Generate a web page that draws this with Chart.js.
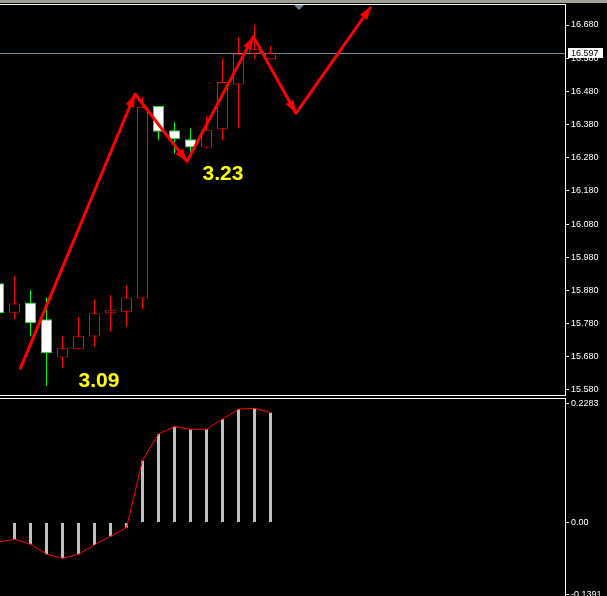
<!DOCTYPE html>
<html>
<head>
<meta charset="utf-8">
<script src="https://cdn.jsdelivr.net/npm/chart.js@4/dist/chart.umd.min.js"></script>
<style>
  html, body { margin: 0; padding: 0; background: #000; width: 607px; height: 596px; overflow: hidden; }
  #main { position: absolute; left: 0; top: 0; }
  #sub { position: absolute; left: 0; top: 396px; }
  #band { position: absolute; left: 0; top: 0; width: 607px; height: 3px; background: #a0a094; }
</style>
</head>
<body>
<canvas id="main" width="607" height="396"></canvas>
<canvas id="sub" width="607" height="200"></canvas>
<div id="band"></div>
<script>
// bar numbers, bar -1 is cut by the left edge
let barNo = [-1, 0, 1, 2, 3, 4, 5, 6, 7, 8, 9, 10, 11, 12, 13, 14, 15, 16];
let open  = [15.902, 15.813, 15.844, 15.793, 15.678, 15.703, 15.741, 15.811, 15.816, 15.856, 16.436, 16.363, 16.336, 16.311, 16.366, 16.501, 16.593, 16.577];
let high  = [15.930, 15.924, 15.881, 15.859, 15.743, 15.800, 15.853, 15.866, 15.896, 16.464, 16.436, 16.388, 16.369, 16.406, 16.580, 16.643, 16.680, 16.617];
let low   = [15.790, 15.793, 15.741, 15.593, 15.647, 15.703, 15.710, 15.756, 15.771, 15.823, 16.333, 16.293, 16.293, 16.308, 16.333, 16.369, 16.577, 16.577];
let close = [15.812, 15.841, 15.781, 15.691, 15.706, 15.742, 15.811, 15.820, 15.859, 16.434, 16.358, 16.336, 16.311, 16.364, 16.508, 16.593, 16.607, 16.595];
let lastPrice = 16.597;

// lower window: histogram and red signal line
let osma   = [-0.0376, -0.0324, -0.0420, -0.0613, -0.0690, -0.0613, -0.0434, -0.0266, -0.0100, 0.1191, 0.1706, 0.1846, 0.1796, 0.1796, 0.1989, 0.2182, 0.2201, 0.2116];
let signal = [-0.0376, -0.0324, -0.0418, -0.0610, -0.0690, -0.0613, -0.0430, -0.0266, -0.0100, 0.1200, 0.1706, 0.1846, 0.1796, 0.1796, 0.1995, 0.2182, 0.2201, 0.2116];

let priceTicks = ['15.580', '15.680', '15.780', '15.880', '15.980', '16.080', '16.180', '16.280', '16.380', '16.480', '16.580', '16.680'];
let osmaTicks = ['-0.1391', '0.00', '0.2283'];

// red zigzag with arrows (bar number, price)
let zigX = [0.34, 7.53, 10.78, 14.93, 17.59, 22.28];
let zigY = [15.642, 16.472, 16.269, 16.645, 16.414, 16.735];

let noteText = ['3.09', '3.23'];
let noteX = [5.28, 13.03];
let noteY = [15.590, 16.213];

let axisFont = { family: '"Liberation Sans", Arial, sans-serif', size: 9 };

function xAxis() {
  return { type: 'linear', display: false, min: -0.90625, max: 34.40625, offset: false };
}

function yAxis(min, max, labels) {
  return {
    position: 'right', min: min, max: max,
    afterBuildTicks: ax => { ax.ticks = labels.map(t => ({ value: parseFloat(t) })); },
    afterFit: ax => { ax.width = 42; ax.paddingTop = 0; ax.paddingBottom = 0; },
    ticks: { color: '#fff', font: axisFont, padding: 2, callback: (v, i) => labels[i] },
    grid: { drawOnChartArea: false, drawTicks: true, tickLength: 4, color: '#fff' },
    border: { display: true, color: '#fff', width: 1 }
  };
}

let mainPlugin = {
  id: 'mainDeco',
  beforeDatasetsDraw(chart) {
    let ctx = chart.ctx, a = chart.chartArea;
    let y = Math.round(chart.scales.y.getPixelForValue(lastPrice)) + 0.5;
    ctx.save();
    ctx.strokeStyle = '#778899';
    ctx.lineWidth = 1;
    ctx.beginPath(); ctx.moveTo(a.left, y); ctx.lineTo(a.right, y); ctx.stroke();
    ctx.restore();
  },
  afterDatasetsDraw(chart) {
    let ctx = chart.ctx;
    let pts = chart.getDatasetMeta(0).data;
    ctx.save();
    ctx.fillStyle = '#ff0000';
    for (let k = 1; k < pts.length; k++) {
      let p0 = pts[k - 1], p1 = pts[k];
      let ang = Math.atan2(p1.y - p0.y, p1.x - p0.x);
      ctx.beginPath();
      ctx.moveTo(p1.x, p1.y);
      ctx.lineTo(p1.x - 13 * Math.cos(ang) + 4.5 * Math.sin(ang), p1.y - 13 * Math.sin(ang) - 4.5 * Math.cos(ang));
      ctx.lineTo(p1.x - 13 * Math.cos(ang) - 4.5 * Math.sin(ang), p1.y - 13 * Math.sin(ang) + 4.5 * Math.cos(ang));
      ctx.closePath();
      ctx.fill();
    }
    ctx.fillStyle = '#ffff00';
    ctx.font = 'bold 21px "Liberation Sans", Arial, sans-serif';
    ctx.textAlign = 'center';
    ctx.textBaseline = 'alphabetic';
    noteText.forEach((t, k) => {
      ctx.fillText(t, chart.scales.x.getPixelForValue(noteX[k]), chart.scales.y.getPixelForValue(noteY[k]));
    });
    ctx.restore();
  },
  afterDraw(chart) {
    let ctx = chart.ctx, a = chart.chartArea;
    ctx.save();
    ctx.strokeStyle = '#fff';
    ctx.lineWidth = 1;
    ctx.beginPath();
    ctx.moveTo(0, 4.5); ctx.lineTo(a.right + 1, 4.5);
    ctx.moveTo(0, 395.5); ctx.lineTo(a.right + 1, 395.5);
    ctx.moveTo(a.right + 0.5, 4); ctx.lineTo(a.right + 0.5, 396);
    ctx.stroke();
    // chart shift marker
    let mx = Math.round(a.left + (a.right - a.left) * 0.529);
    ctx.fillStyle = '#708090';
    ctx.beginPath(); ctx.moveTo(mx - 5, 5); ctx.lineTo(mx + 5, 5); ctx.lineTo(mx, 10); ctx.closePath(); ctx.fill();
    // last price box
    let y = Math.round(chart.scales.y.getPixelForValue(lastPrice));
    ctx.fillStyle = '#fff';
    ctx.fillRect(a.right + 3, y - 5, 35, 10);
    ctx.fillStyle = '#000';
    ctx.font = '9px "Liberation Sans", Arial, sans-serif';
    ctx.textBaseline = 'middle';
    ctx.fillText(lastPrice.toFixed(3), a.right + 6, y + 0.5);
    ctx.restore();
  }
};

let subPlugin = {
  id: 'subDeco',
  afterDraw(chart) {
    let ctx = chart.ctx, a = chart.chartArea;
    ctx.save();
    ctx.strokeStyle = '#fff';
    ctx.lineWidth = 1;
    ctx.beginPath();
    ctx.moveTo(0, 2.5); ctx.lineTo(a.right + 1, 2.5);
    ctx.moveTo(a.right + 0.5, 2); ctx.lineTo(a.right + 0.5, 200);
    ctx.stroke();
    ctx.restore();
  }
};

let bull = barNo.map((b, k) => close[k] >= open[k]);

new Chart(document.getElementById('main'), {
  type: 'bar',
  data: {
    datasets: [{
      type: 'line',
      data: zigX.map((x, k) => ({ x: x, y: zigY[k] })),
      borderColor: '#ff0000',
      borderWidth: 3,
      borderJoinStyle: 'round',
      pointRadius: 0,
      tension: 0
    }, {
      data: barNo.map((b, k) => ({ x: b, y: [open[k], close[k]] })),
      backgroundColor: bull.map(u => u ? '#000000' : '#ffffff'),
      borderColor: bull.map(u => u ? '#ff0000' : '#00ff00'),
      borderWidth: 1,
      borderSkipped: false,
      barThickness: 11,
      inflateAmount: 0,
      grouped: false
    }, {
      data: barNo.map((b, k) => ({ x: b, y: [low[k], high[k]] })),
      backgroundColor: bull.map(u => u ? '#ff0000' : '#00ff00'),
      borderWidth: 0,
      barThickness: 1,
      inflateAmount: 0,
      grouped: false
    }]
  },
  options: {
    responsive: false,
    animation: false,
    devicePixelRatio: 1,
    layout: { padding: { left: 0, top: 5, right: 0, bottom: 1 } },
    plugins: { legend: { display: false }, tooltip: { enabled: false } },
    scales: {
      x: xAxis(),
      y: yAxis(15.5649, 16.7403, priceTicks)
    }
  },
  plugins: [mainPlugin]
});

new Chart(document.getElementById('sub'), {
  type: 'bar',
  data: {
    datasets: [{
      type: 'line',
      data: barNo.map((b, k) => ({ x: b, y: signal[k] })),
      borderColor: '#ff0000',
      borderWidth: 1,
      pointRadius: 0,
      tension: 0
    }, {
      data: barNo.map((b, k) => ({ x: b, y: osma[k] })),
      backgroundColor: '#c0c0c0',
      borderWidth: 0,
      barThickness: 3,
      inflateAmount: 0,
      grouped: false
    }]
  },
  options: {
    responsive: false,
    animation: false,
    devicePixelRatio: 1,
    layout: { padding: { left: 0, top: 3, right: 0, bottom: 0 } },
    plugins: { legend: { display: false }, tooltip: { enabled: false } },
    scales: {
      x: xAxis(),
      y: yAxis(-0.14165, 0.2379, osmaTicks)
    }
  },
  plugins: [subPlugin]
});
</script>
</body>
</html>
